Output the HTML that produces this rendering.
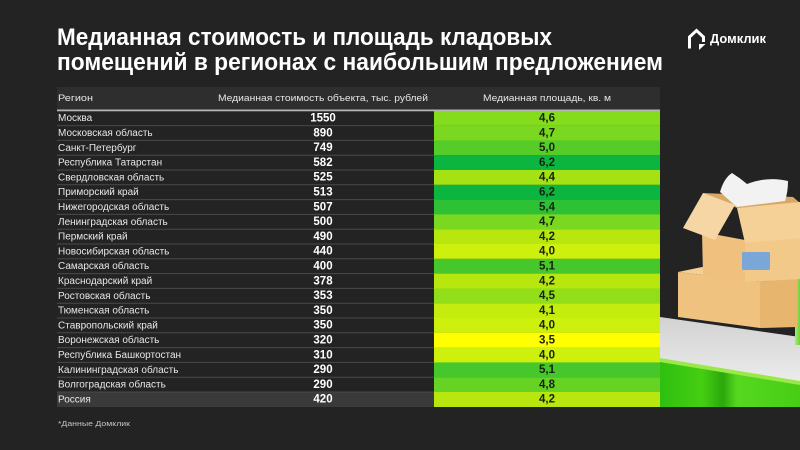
<!DOCTYPE html>
<html>
<head>
<meta charset="utf-8">
<style>
  html,body{margin:0;padding:0;background:#232323;}
  body{width:800px;height:450px;overflow:hidden;}
  svg{display:block;}
  text{font-family:"Liberation Sans","DejaVu Sans",sans-serif;}
</style>
</head>
<body>
<svg width="800" height="450" viewBox="0 0 800 450" xmlns="http://www.w3.org/2000/svg">
  <rect x="0" y="0" width="800" height="450" fill="#232323"/>

  <!-- Title -->
  <text x="57" y="45" font-size="24" font-weight="bold" fill="#ffffff" textLength="495" lengthAdjust="spacingAndGlyphs">Медианная стоимость и площадь кладовых</text>
  <text x="57" y="70" font-size="24" font-weight="bold" fill="#ffffff" textLength="606" lengthAdjust="spacingAndGlyphs">помещений в регионах с наибольшим предложением</text>

  <!-- Logo -->
  <path d="M689.5 48.5 V37 L696.5 30.5 L703.5 37 V42" fill="none" stroke="#ffffff" stroke-width="3" stroke-linejoin="miter"/>
  <polygon points="699,44 705.5,44 699,50" fill="#ffffff"/>
  <text x="710" y="43" font-size="13" font-weight="bold" fill="#ffffff" textLength="56" lengthAdjust="spacingAndGlyphs">Домклик</text>

  <!-- Header -->
  <rect x="57" y="87" width="603" height="23" fill="#2e2e2e"/>
  <text x="58" y="101" font-size="9.5" fill="#e6e6e6" textLength="35" lengthAdjust="spacingAndGlyphs">Регион</text>
  <text x="218" y="101" font-size="9.5" fill="#e6e6e6" textLength="210" lengthAdjust="spacingAndGlyphs">Медианная стоимость объекта, тыс. рублей</text>
  <text x="483" y="101" font-size="9.5" fill="#e6e6e6" textLength="128" lengthAdjust="spacingAndGlyphs">Медианная площадь, кв. м</text>

  <!-- Russia row bg -->
  <rect x="57" y="392" width="377" height="15" fill="#3a3a3a"/>

  <!-- Green column cells -->
  <g>
    <rect x="434" y="110.8" width="226" height="14.9" fill="#84dc1c"/>
    <rect x="434" y="125.6" width="226" height="14.9" fill="#7ad820"/>
    <rect x="434" y="140.4" width="226" height="14.9" fill="#55cc28"/>
    <rect x="434" y="155.2" width="226" height="14.9" fill="#0cb440"/>
    <rect x="434" y="170.0" width="226" height="14.9" fill="#a5e214"/>
    <rect x="434" y="184.8" width="226" height="14.9" fill="#0cb440"/>
    <rect x="434" y="199.6" width="226" height="14.9" fill="#2ec035"/>
    <rect x="434" y="214.4" width="226" height="14.9" fill="#7ad820"/>
    <rect x="434" y="229.2" width="226" height="14.9" fill="#b8e70f"/>
    <rect x="434" y="244.0" width="226" height="14.9" fill="#cdf00c"/>
    <rect x="434" y="258.8" width="226" height="14.9" fill="#46c82d"/>
    <rect x="434" y="273.6" width="226" height="14.9" fill="#b8e70f"/>
    <rect x="434" y="288.4" width="226" height="14.9" fill="#92de18"/>
    <rect x="434" y="303.2" width="226" height="14.9" fill="#c4ec0e"/>
    <rect x="434" y="318.0" width="226" height="14.9" fill="#cdf00c"/>
    <rect x="434" y="332.8" width="226" height="14.9" fill="#ffff00"/>
    <rect x="434" y="347.6" width="226" height="14.9" fill="#cdf00c"/>
    <rect x="434" y="362.4" width="226" height="14.9" fill="#46c82d"/>
    <rect x="434" y="377.2" width="226" height="14.9" fill="#66d224"/>
    <rect x="434" y="392.0" width="226" height="15.0" fill="#b8e70f"/>
  </g>

  <!-- Row separators -->
  <g stroke="#4a4a4a" stroke-width="1">
    <line x1="57" y1="125.6" x2="434" y2="125.6"/>
    <line x1="57" y1="140.4" x2="434" y2="140.4"/>
    <line x1="57" y1="155.2" x2="434" y2="155.2"/>
    <line x1="57" y1="170.0" x2="434" y2="170.0"/>
    <line x1="57" y1="184.8" x2="434" y2="184.8"/>
    <line x1="57" y1="199.6" x2="434" y2="199.6"/>
    <line x1="57" y1="214.4" x2="434" y2="214.4"/>
    <line x1="57" y1="229.2" x2="434" y2="229.2"/>
    <line x1="57" y1="244.0" x2="434" y2="244.0"/>
    <line x1="57" y1="258.8" x2="434" y2="258.8"/>
    <line x1="57" y1="273.6" x2="434" y2="273.6"/>
    <line x1="57" y1="288.4" x2="434" y2="288.4"/>
    <line x1="57" y1="303.2" x2="434" y2="303.2"/>
    <line x1="57" y1="318.0" x2="434" y2="318.0"/>
    <line x1="57" y1="332.8" x2="434" y2="332.8"/>
    <line x1="57" y1="347.6" x2="434" y2="347.6"/>
    <line x1="57" y1="362.4" x2="434" y2="362.4"/>
    <line x1="57" y1="377.2" x2="434" y2="377.2"/>
    <line x1="57" y1="392.0" x2="434" y2="392.0"/>
  </g>

  <!-- Header separator -->
  <rect x="57" y="109.5" width="603" height="1.8" fill="#b4b4b4"/>

  <!-- Region names -->
  <g font-size="10" fill="#e8e8e8">
    <text x="58" y="121.2">Москва</text>
    <text x="58" y="136.0">Московская область</text>
    <text x="58" y="150.8">Санкт-Петербург</text>
    <text x="58" y="165.6">Республика Татарстан</text>
    <text x="58" y="180.4">Свердловская область</text>
    <text x="58" y="195.2">Приморский край</text>
    <text x="58" y="210.0">Нижегородская область</text>
    <text x="58" y="224.8">Ленинградская область</text>
    <text x="58" y="239.6">Пермский край</text>
    <text x="58" y="254.4">Новосибирская область</text>
    <text x="58" y="269.2">Самарская область</text>
    <text x="58" y="284.0">Краснодарский край</text>
    <text x="58" y="298.8">Ростовская область</text>
    <text x="58" y="313.6">Тюменская область</text>
    <text x="58" y="328.4">Ставропольский край</text>
    <text x="58" y="343.2">Воронежская область</text>
    <text x="58" y="358.0">Республика Башкортостан</text>
    <text x="58" y="372.8">Калининградская область</text>
    <text x="58" y="387.6">Волгоградская область</text>
    <text x="58" y="402.4">Россия</text>
  </g>

  <!-- Cost values -->
  <g font-size="11.5" font-weight="bold" fill="#ffffff" text-anchor="middle">
    <text x="323" y="121.5">1550</text>
    <text x="323" y="136.3">890</text>
    <text x="323" y="151.1">749</text>
    <text x="323" y="165.9">582</text>
    <text x="323" y="180.7">525</text>
    <text x="323" y="195.5">513</text>
    <text x="323" y="210.3">507</text>
    <text x="323" y="225.1">500</text>
    <text x="323" y="239.9">490</text>
    <text x="323" y="254.7">440</text>
    <text x="323" y="269.5">400</text>
    <text x="323" y="284.3">378</text>
    <text x="323" y="299.1">353</text>
    <text x="323" y="313.9">350</text>
    <text x="323" y="328.7">350</text>
    <text x="323" y="343.5">320</text>
    <text x="323" y="358.3">310</text>
    <text x="323" y="373.1">290</text>
    <text x="323" y="387.9">290</text>
    <text x="323" y="402.7">420</text>
  </g>

  <!-- Area values -->
  <g font-size="11.5" font-weight="bold" fill="#16220e" text-anchor="middle">
    <text x="547" y="121.5">4,6</text>
    <text x="547" y="136.3">4,7</text>
    <text x="547" y="151.1">5,0</text>
    <text x="547" y="165.9">6,2</text>
    <text x="547" y="180.7">4,4</text>
    <text x="547" y="195.5">6,2</text>
    <text x="547" y="210.3">5,4</text>
    <text x="547" y="225.1">4,7</text>
    <text x="547" y="239.9">4,2</text>
    <text x="547" y="254.7">4,0</text>
    <text x="547" y="269.5">5,1</text>
    <text x="547" y="284.3">4,2</text>
    <text x="547" y="299.1">4,5</text>
    <text x="547" y="313.9">4,1</text>
    <text x="547" y="328.7">4,0</text>
    <text x="547" y="343.5">3,5</text>
    <text x="547" y="358.3">4,0</text>
    <text x="547" y="373.1">5,1</text>
    <text x="547" y="387.9">4,8</text>
    <text x="547" y="402.7">4,2</text>
  </g>

  <!-- Footnote -->
  <text x="58" y="426" font-size="7.5" fill="#c4c4c4" textLength="72" lengthAdjust="spacingAndGlyphs">*Данные Домклик</text>

  <!-- Illustration: platform -->
  <defs>
    <linearGradient id="gfront" x1="0" y1="0" x2="1" y2="0">
      <stop offset="0" stop-color="#2fbf10"/>
      <stop offset="0.3" stop-color="#45cf12"/>
      <stop offset="0.45" stop-color="#2aa80c"/>
      <stop offset="0.55" stop-color="#56d820"/>
      <stop offset="1" stop-color="#48cc14"/>
    </linearGradient>
    <linearGradient id="gtop" x1="0" y1="0" x2="0" y2="1">
      <stop offset="0" stop-color="#d2d2d2"/>
      <stop offset="1" stop-color="#ececec"/>
    </linearGradient>
    <linearGradient id="gcyl" x1="0" y1="0" x2="1" y2="0">
      <stop offset="0" stop-color="#a4ec74"/>
      <stop offset="1" stop-color="#6cd438"/>
    </linearGradient>
  </defs>
  <polygon points="660,317 800,337 800,383 660,360" fill="url(#gtop)"/>
  <polygon points="660,360 800,383 800,407 660,407" fill="url(#gfront)"/>
  <polygon points="660,358 800,381 800,385 660,362" fill="#9be84a"/>

  <!-- Green cylinder on right -->
  <path d="M795,275 Q800,268 800,270 L800,345 L795,345 Z" fill="url(#gcyl)"/>

  <!-- Lower box -->
  <polygon points="678,272 702,267 797,276 760,282" fill="#f5cf93"/>
  <polygon points="678,272 760,282 760,328 678,317" fill="#f0c27f"/>
  <polygon points="760,282 797,276 797,327 760,328" fill="#e8b56e"/>

  <!-- Upper box body -->
  <polygon points="702,232 745,240 745,282 703,276" fill="#efc07e"/>
  <polygon points="745,240 800,236 800,279 745,282" fill="#f3c98a"/>
  <!-- inner box back -->
  <polygon points="703,193 793,197 800,203 737,208" fill="#d9a868"/>
  <!-- Pillow -->
  <path d="M720,192 Q724,178 732,173 Q740,178 747,184 Q768,176 788,181 Q788,192 785,201 L737,207 Z" fill="#f2f2f2"/>
  <!-- Left flap -->
  <polygon points="683,228 703,193 735,205 715,240" fill="#f7d6a6"/>
  <!-- Front flap -->
  <polygon points="737,208 800,202 800,238 745,243" fill="#f5d198"/>
  <!-- Blue label -->
  <rect x="742" y="252" width="28" height="18" rx="1.5" fill="#7ba7d8"/>
</svg>
</body>
</html>
